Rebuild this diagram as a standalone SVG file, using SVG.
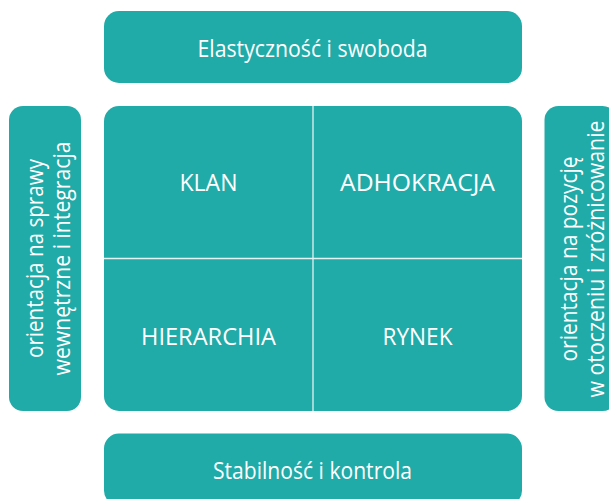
<svg xmlns="http://www.w3.org/2000/svg" width="609" height="499" viewBox="0 0 609 499">
<style>
.box{fill:#20aba8}
.t{fill:#ffffff;font-family:"Open Sans","Noto Sans","Liberation Sans",sans-serif;font-size:24px;font-weight:400;text-anchor:middle}
.div{stroke:#e6f2f1;stroke-width:1.3;fill:none}
</style>
<rect width="609" height="499" fill="#ffffff"/>
<g id="top">
<rect class="box" x="104" y="11" width="418" height="72" rx="15"/>
<text class="t" x="312.5" y="56.5" textLength="230" lengthAdjust="spacingAndGlyphs">Elastyczność i swoboda</text>
</g>
<g id="grid">
<rect class="box" x="104" y="106" width="418" height="305" rx="15"/>
</g>
<g id="connectors">
<line class="div" x1="313" y1="106" x2="313" y2="411"/>
<line class="div" x1="104" y1="258.5" x2="522" y2="258.5"/>
</g>
<g id="klan"><text class="t" x="208.5" y="190.5" textLength="58" lengthAdjust="spacingAndGlyphs">KLAN</text></g>
<g id="adhokracja"><text class="t" x="417.5" y="190.5" textLength="155" lengthAdjust="spacingAndGlyphs">ADHOKRACJA</text></g>
<g id="hierarchia"><text class="t" x="208.5" y="345" textLength="135" lengthAdjust="spacingAndGlyphs">HIERARCHIA</text></g>
<g id="rynek"><text class="t" x="417.5" y="345" textLength="70" lengthAdjust="spacingAndGlyphs">RYNEK</text></g>
<g id="left">
<rect class="box" x="9" y="106" width="72" height="305" rx="14"/>
<text class="t" transform="translate(42.5 258.5) rotate(-90)" textLength="199" lengthAdjust="spacingAndGlyphs">orientacja na sprawy</text>
<text class="t" transform="translate(69.5 258.5) rotate(-90)" textLength="234" lengthAdjust="spacingAndGlyphs">wewnętrzne i integracja</text>
</g>
<g id="right">
<rect class="box" x="544.5" y="106" width="72" height="305" rx="14"/>
<text class="t" transform="translate(577 259) rotate(-90)" textLength="205" lengthAdjust="spacingAndGlyphs">orientacja na pozycję</text>
<text class="t" transform="translate(603.5 259) rotate(-90)" textLength="277" lengthAdjust="spacingAndGlyphs">w otoczeniu i zróżnicowanie</text>
</g>
<g id="bottom">
<rect class="box" x="104" y="433.5" width="418" height="72" rx="15"/>
<text class="t" x="312.5" y="479" textLength="199" lengthAdjust="spacingAndGlyphs">Stabilność i kontrola</text>
</g>
</svg>
